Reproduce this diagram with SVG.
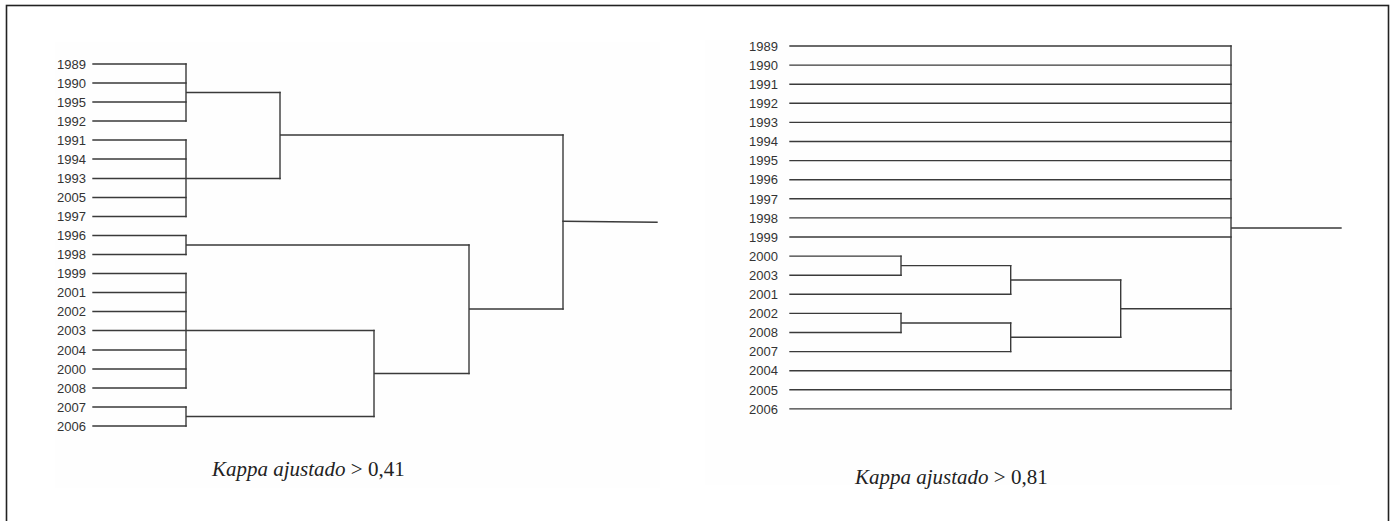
<svg xmlns="http://www.w3.org/2000/svg" width="1392" height="521" viewBox="0 0 1392 521">
  <style>
    .frame { fill: #ffffff; stroke: #222222; stroke-width: 1.6; }
    .plot { fill: #fefefe; stroke: none; }
    .lbl { font-family: "Liberation Sans", Arial, sans-serif; font-size: 13px; fill: #333333; text-anchor: end; }
    .cap { font-family: "Liberation Serif", "Times New Roman", serif; font-size: 21px; fill: #222222; }
    .cap .it { font-style: italic; }
    .edge { fill: none; stroke: #3a3a3a; stroke-width: 1.4; stroke-linecap: square; }
  </style>

  <!-- page frame (open at the bottom edge) -->
  <rect class="frame" x="6.5" y="5.5" width="1382" height="530"/>
  <rect class="plot" x="55" y="42" width="605" height="446"/>
  <rect class="plot" x="705" y="40" width="635" height="445"/>

  <!-- ===== Left dendrogram: Kappa ajustado > 0,41 ===== -->
  <g id="left-leaves">
    <g id="L1989"><text class="lbl" x="86" y="68.7">1989</text></g>
    <g id="L1990"><text class="lbl" x="86" y="87.7">1990</text></g>
    <g id="L1995"><text class="lbl" x="86" y="106.7">1995</text></g>
    <g id="L1992"><text class="lbl" x="86" y="125.7">1992</text></g>
    <g id="L1991"><text class="lbl" x="86" y="144.7">1991</text></g>
    <g id="L1994"><text class="lbl" x="86" y="163.7">1994</text></g>
    <g id="L1993"><text class="lbl" x="86" y="183.2">1993</text></g>
    <g id="L2005"><text class="lbl" x="86" y="202.2">2005</text></g>
    <g id="L1997"><text class="lbl" x="86" y="221.2">1997</text></g>
    <g id="L1996"><text class="lbl" x="86" y="240.2">1996</text></g>
    <g id="L1998"><text class="lbl" x="86" y="259.2">1998</text></g>
    <g id="L1999"><text class="lbl" x="86" y="278.2">1999</text></g>
    <g id="L2001"><text class="lbl" x="86" y="297.2">2001</text></g>
    <g id="L2002"><text class="lbl" x="86" y="316.2">2002</text></g>
    <g id="L2003"><text class="lbl" x="86" y="335.2">2003</text></g>
    <g id="L2004"><text class="lbl" x="86" y="354.7">2004</text></g>
    <g id="L2000"><text class="lbl" x="86" y="373.7">2000</text></g>
    <g id="L2008"><text class="lbl" x="86" y="392.7">2008</text></g>
    <g id="L2007"><text class="lbl" x="86" y="411.7">2007</text></g>
    <g id="L2006"><text class="lbl" x="86" y="430.7">2006</text></g>
  </g>

  <g id="left-connectors">
    <!-- leaf branches -->
    <path class="edge" d="M93 64H186 M93 83H186 M93 102H186 M93 121H186
                          M93 140H186 M93 159H186 M93 178.5H280 M93 197.5H186 M93 216.5H186
                          M93 235.5H186 M93 254.5H186
                          M93 273.5H186 M93 292.5H186 M93 311.5H186 M93 330.5H374 M93 350H186 M93 369H186 M93 388H186
                          M93 407H186 M93 426H186"/>
    <!-- first-level joins -->
    <path class="edge" d="M186 64V121 M186 92.5H280"/>
    <path class="edge" d="M186 140V216.5"/>
    <path class="edge" d="M186 235.5V254.5 M186 245H469"/>
    <path class="edge" d="M186 273.5V388"/>
    <path class="edge" d="M186 407V426 M186 416.5H374"/>
    <!-- higher joins -->
    <path class="edge" d="M280 92.5V178.5 M280 135H563"/>
    <path class="edge" d="M374 330.5V416.5 M374 373.5H469"/>
    <path class="edge" d="M469 245V373.5 M469 309H563"/>
    <path class="edge" d="M563 135V309"/>
    <!-- root -->
    <path class="edge" d="M563 221.3L657 222.3"/>
  </g>

  <g id="left-caption">
    <text class="cap" x="212" y="476"><tspan class="it">Kappa ajustado</tspan> &gt; 0,41</text>
  </g>

  <!-- ===== Right dendrogram: Kappa ajustado > 0,81 ===== -->
  <g id="right-leaves">
    <g id="R1989"><text class="lbl" x="778" y="50.7">1989</text></g>
    <g id="R1990"><text class="lbl" x="778" y="69.8">1990</text></g>
    <g id="R1991"><text class="lbl" x="778" y="88.9">1991</text></g>
    <g id="R1992"><text class="lbl" x="778" y="108">1992</text></g>
    <g id="R1993"><text class="lbl" x="778" y="127.1">1993</text></g>
    <g id="R1994"><text class="lbl" x="778" y="146.2">1994</text></g>
    <g id="R1995"><text class="lbl" x="778" y="165.3">1995</text></g>
    <g id="R1996"><text class="lbl" x="778" y="184.4">1996</text></g>
    <g id="R1997"><text class="lbl" x="778" y="203.5">1997</text></g>
    <g id="R1998"><text class="lbl" x="778" y="222.6">1998</text></g>
    <g id="R1999"><text class="lbl" x="778" y="241.7">1999</text></g>
    <g id="R2000"><text class="lbl" x="778" y="260.8">2000</text></g>
    <g id="R2003"><text class="lbl" x="778" y="279.9">2003</text></g>
    <g id="R2001"><text class="lbl" x="778" y="299">2001</text></g>
    <g id="R2002"><text class="lbl" x="778" y="318.1">2002</text></g>
    <g id="R2008"><text class="lbl" x="778" y="337.2">2008</text></g>
    <g id="R2007"><text class="lbl" x="778" y="356.3">2007</text></g>
    <g id="R2004"><text class="lbl" x="778" y="375.4">2004</text></g>
    <g id="R2005"><text class="lbl" x="778" y="394.5">2005</text></g>
    <g id="R2006"><text class="lbl" x="778" y="413.6">2006</text></g>
  </g>

  <g id="right-connectors">
    <!-- singleton branches running straight to the root join -->
    <path class="edge" d="M790 46H1231 M790 65.1H1231 M790 84.2H1231 M790 103.3H1231 M790 122.4H1231
                          M790 141.5H1231 M790 160.6H1231 M790 179.7H1231 M790 198.8H1231 M790 217.9H1231
                          M790 237H1231
                          M790 370.7H1231 M790 389.8H1231 M790 408.9H1231"/>
    <!-- grouped leaves -->
    <path class="edge" d="M790 256.1H901 M790 275.2H901 M790 294.3H1010.7
                          M790 313.4H901 M790 332.5H901 M790 351.6H1010.7"/>
    <path class="edge" d="M901 256.1V275.2 M901 265.6H1010.7"/>
    <path class="edge" d="M901 313.4V332.5 M901 323H1010.7"/>
    <path class="edge" d="M1010.7 265.6V294.3 M1010.7 280H1120.7"/>
    <path class="edge" d="M1010.7 323V351.6 M1010.7 337.3H1120.7"/>
    <path class="edge" d="M1120.7 280V337.3 M1120.7 308.7H1231"/>
    <!-- root join -->
    <path class="edge" d="M1231 46V408.9 M1231 228H1341"/>
  </g>

  <g id="right-caption">
    <text class="cap" x="855" y="484"><tspan class="it">Kappa ajustado</tspan> &gt; 0,81</text>
  </g>
</svg>
